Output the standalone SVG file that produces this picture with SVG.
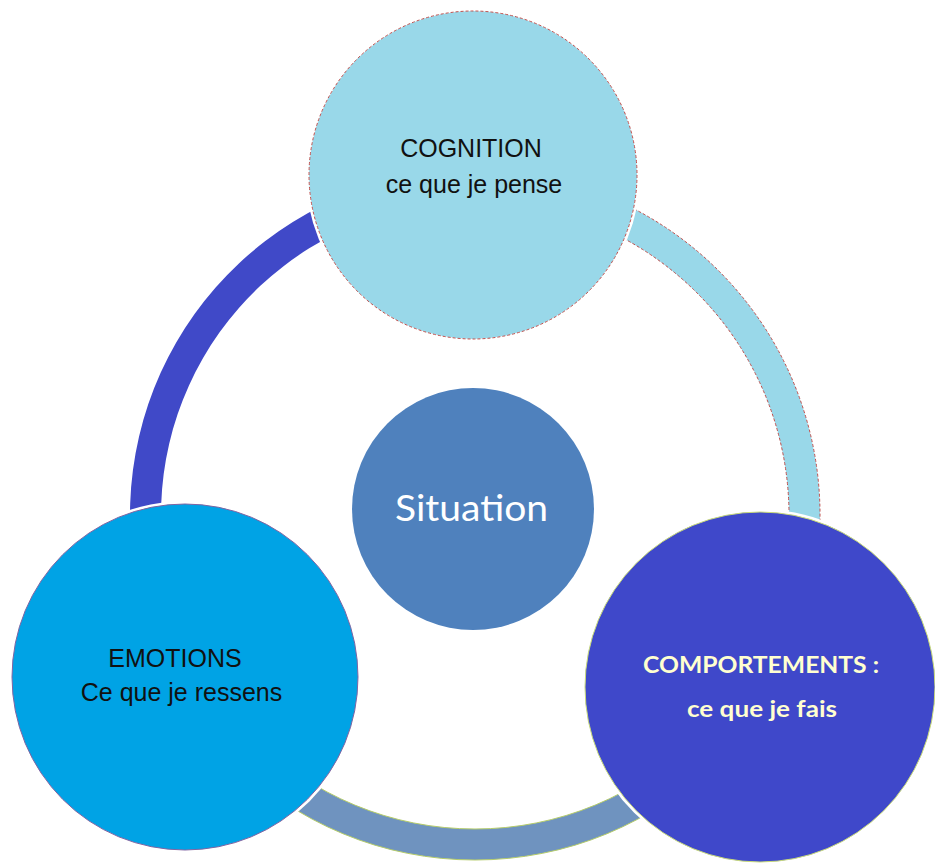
<svg xmlns="http://www.w3.org/2000/svg" width="935" height="864" viewBox="0 0 935 864">
<style>
.halo{fill:#ffffff;}
.lbl{font-family:"Liberation Sans",Arial,sans-serif;font-size:25px;fill:#111111;text-anchor:middle;}
.lblc{font-family:Lato,"Open Sans",sans-serif;font-weight:bold;fill:#FFFFD0;text-anchor:middle;}
</style>
<rect width="935" height="864" fill="#ffffff"/>
<g id="connectors">
<path id="arc-left" d="M141.75,604.29 A345,345 0 0 1 385.71,181.75 L393.73,211.70 A314,314 0 0 0 171.70,596.27 Z" fill="#4049C8"/>
<path id="arc-right" d="M564.29,181.75 A345,345 0 0 1 808.25,604.29 L778.30,596.27 A314,314 0 0 0 556.27,211.70 Z" fill="#99D8E9" stroke="#C0504D" stroke-width="1" stroke-dasharray="3 2"/>
<path id="arc-bottom" d="M718.95,758.95 A345,345 0 0 1 231.05,758.95 L252.97,737.03 A314,314 0 0 0 697.03,737.03 Z" fill="#6F93BF" stroke="#B5CC6A" stroke-width="1"/>
</g>
<g id="cognition">
<circle class="halo" cx="473" cy="175" r="167"/>
<circle cx="473" cy="175" r="164" fill="#99D8E9" stroke="#C0504D" stroke-width="1" stroke-dasharray="3 2"/>
<text class="lbl" x="471" y="157">COGNITION</text>
<text class="lbl" x="474" y="193">ce que je pense</text>
</g>
<g id="emotions">
<circle class="halo" cx="185" cy="677" r="176"/>
<circle cx="185" cy="677" r="173" fill="#00A3E5" stroke="#8064A2" stroke-width="1"/>
<text class="lbl" x="175" y="667">EMOTIONS</text>
<text class="lbl" x="181.5" y="701">Ce que je ressens</text>
</g>
<g id="comportements">
<circle class="halo" cx="760" cy="687" r="178"/>
<circle cx="760" cy="687" r="175" fill="#3F48CA" stroke="#C8DA7A" stroke-width="1"/>
<text class="lblc" x="761" y="673" font-size="23" textLength="236" lengthAdjust="spacingAndGlyphs">COMPORTEMENTS :</text>
<text class="lblc" x="762" y="717" font-size="23" textLength="150" lengthAdjust="spacingAndGlyphs">ce que je fais</text>
</g>
<g id="situation">
<circle cx="473" cy="509" r="121" fill="#4F81BD"/>
<text x="471.5" y="521" font-family="Lato,'Open Sans',sans-serif" font-size="37" fill="#ffffff" text-anchor="middle" textLength="153" lengthAdjust="spacingAndGlyphs">Situation</text>
</g>
</svg>
